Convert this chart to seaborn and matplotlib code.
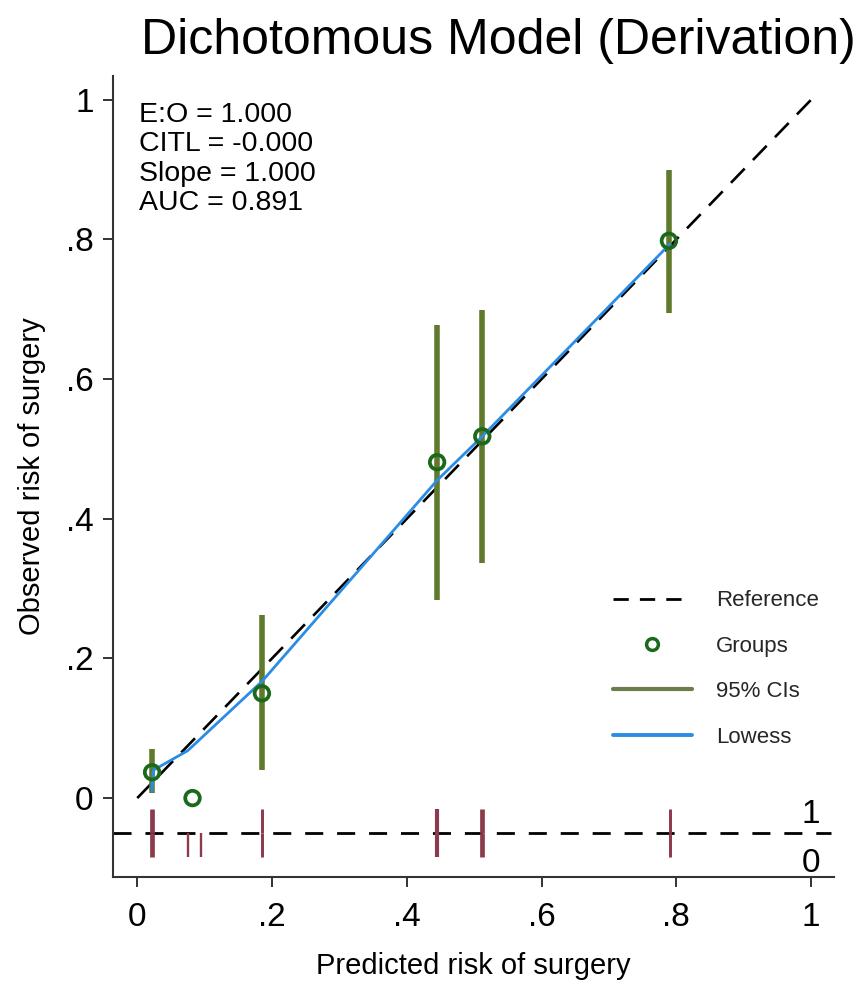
import matplotlib
matplotlib.use("Agg")
import matplotlib.pyplot as plt
import seaborn as sns
import pandas as pd
from matplotlib.lines import Line2D

# ---- data ----
group_pred = [0.022, 0.082, 0.185, 0.445, 0.512, 0.789]
group_obs = [0.037, 0.000, 0.150, 0.481, 0.518, 0.798]
ci_low = [0.007, 0.000, 0.040, 0.284, 0.337, 0.695]
ci_high = [0.070, 0.000, 0.262, 0.678, 0.699, 0.900]

lowess_x = [0.022, 0.024, 0.075, 0.095, 0.185, 0.445, 0.512, 0.790]
lowess_y = [0.010, 0.040, 0.068, 0.086, 0.167, 0.455, 0.518, 0.793]

ref_x = [0.0, 1.0]
ref_y = [0.0, 1.0]

rug_event_x = [0.022, 0.185, 0.445, 0.512, 0.790]          # outcome = 1
rug_event_w = [4.0, 2.5, 3.5, 4.0, 2.5]
rug_nonevent_x = [0.022, 0.075, 0.095, 0.185, 0.445, 0.512, 0.790]  # outcome = 0
rug_nonevent_w = [4.0, 2.0, 2.0, 2.5, 3.5, 4.0, 2.5]

stats_lines = ["E:O = 1.000", "CITL = -0.000", "Slope = 1.000", "AUC = 0.891"]
tick_vals = [0, 0.2, 0.4, 0.6, 0.8, 1.0]
tick_labels = ["0", ".2", ".4", ".6", ".8", "1"]

title = "Dichotomous Model (Derivation)"
xlabel = "Predicted risk of surgery"
ylabel = "Observed risk of surgery"

# ---- styling ----
sns.set_theme(style="white")
plt.rcParams["font.family"] = ["Liberation Sans", "DejaVu Sans"]

C_GROUP = "#1b6a1b"
C_CI = "#5f7a2c"
C_LOW = "#2b8ce6"
C_RUG = "#8c3a4c"
C_AX = "#333333"

W, H = 866, 983
fig = plt.figure(figsize=(W / 100, H / 100), dpi=100)
ax_l, ax_r, ax_t, ax_b = 113, 834, 76, 877
ax = fig.add_axes([ax_l / W, (H - ax_b) / H, (ax_r - ax_l) / W, (ax_b - ax_t) / H])

xlim = (-0.036, 1.034)
ylim = (-0.113, 1.034)
ax.set_xlim(*xlim)
ax.set_ylim(*ylim)

groups = pd.DataFrame({"pred": group_pred, "obs": group_obs})
low = pd.DataFrame({"x": lowess_x, "y": lowess_y})
ref = pd.DataFrame({"x": ref_x, "y": ref_y})

# reference diagonal
sns.lineplot(data=ref, x="x", y="y", ax=ax, color="black", lw=1.9,
             sort=False, estimator=None, zorder=2)
ax.lines[-1].set_dashes([7.5, 4.5])

# CIs
ax.vlines(group_pred, ci_low, ci_high, color=C_CI, lw=4.0, zorder=3)

# lowess
sns.lineplot(data=low, x="x", y="y", ax=ax, color=C_LOW, lw=2.0,
             sort=False, estimator=None, zorder=4)

# groups
sns.scatterplot(data=groups, x="pred", y="obs", ax=ax, s=110, marker="o",
                facecolor="none", edgecolor=C_GROUP, linewidth=2.7, zorder=5)

# rug
rug_y = -0.05
rug_h = 0.034
ax.plot([xlim[0], 1.03], [rug_y, rug_y], color="black", lw=2.0,
        dashes=[6.5, 5], zorder=2)
ax.vlines(rug_event_x, rug_y, rug_y + rug_h, colors=C_RUG,
          linewidths=[w * 0.85 for w in rug_event_w], zorder=3)
ax.vlines(rug_nonevent_x, rug_y - rug_h, rug_y, colors=C_RUG,
          linewidths=[w * 0.85 for w in rug_nonevent_w], zorder=3)
ax.text(1.0, rug_y + 0.004, "1", ha="center", va="bottom", fontsize=24, color="black")
ax.text(1.0, rug_y - 0.022, "0", ha="center", va="top", fontsize=24, color="black")

# stats text
ax.text(0.003, 0.997, "\n".join(stats_lines), ha="left", va="top",
        fontsize=20.5, linespacing=1.17, color="black")

# axes style
ax.set_xticks(tick_vals)
ax.set_xticklabels(tick_labels)
ax.set_yticks(tick_vals)
ax.set_yticklabels(tick_labels)
ax.tick_params(axis="both", which="major", direction="out", length=7, width=1.4,
               color=C_AX, labelsize=24, labelcolor="black", pad=7,
               bottom=True, left=True)
ax.tick_params(axis="x", pad=11)
for side in ["top", "right"]:
    ax.spines[side].set_visible(False)
for side in ["left", "bottom"]:
    ax.spines[side].set_visible(True)
    ax.spines[side].set_color(C_AX)
    ax.spines[side].set_linewidth(1.5)
ax.grid(False)
ax.set_xlabel(xlabel, fontsize=21, labelpad=14, color="black")
ax.set_ylabel(ylabel, fontsize=21, labelpad=14, color="black")

fig.text(498 / W, 1 - 41 / H, title, ha="center", va="center",
         fontsize=36, color="black")

# legend
handles = [
    Line2D([], [], color="black", lw=2.0, dashes=[5.5, 4]),
    Line2D([], [], ls="none", marker="o", markersize=8.5, markerfacecolor="none",
           markeredgecolor=C_GROUP, markeredgewidth=2.5),
    Line2D([], [], color="#6b7d4a", lw=3.0),
    Line2D([], [], color=C_LOW, lw=2.8),
]
labels = ["Reference", "Groups", "95% CIs", "Lowess"]
ax.legend(handles, labels, loc="center left",
          bbox_to_anchor=((613 - ax_l) / (ax_r - ax_l), (ax_b - 669) / (ax_b - ax_t)),
          frameon=False, fontsize=16, handlelength=3.55, handletextpad=1.1,
          labelspacing=1.1, borderpad=0, borderaxespad=0)

fig.savefig("out.png", dpi=100)
